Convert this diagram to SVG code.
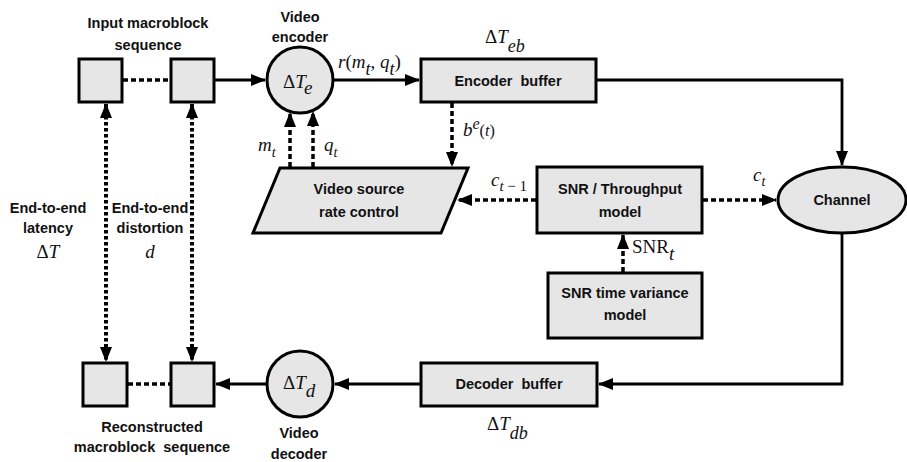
<svg xmlns="http://www.w3.org/2000/svg" width="907" height="462" viewBox="0 0 907 462">
<defs>
<style>
.box{fill:#e6e6e6;stroke:#000;stroke-width:3}
.lbl{font-family:"Liberation Sans",Arial,sans-serif;font-weight:bold;font-size:14.5px;fill:#111;text-anchor:middle}
.m{font-family:"Liberation Serif","Times New Roman",serif;font-style:italic;font-size:19px;fill:#111}
.up{font-style:normal}
.solid{fill:none;stroke:#000;stroke-width:2.8}
.dash{fill:none;stroke:#000;stroke-width:3.5;stroke-dasharray:5 3}
.dot{fill:none;stroke:#000;stroke-width:4;stroke-dasharray:3.5 2.5}
</style>
<marker id="ah" markerUnits="userSpaceOnUse" markerWidth="15" markerHeight="12" refX="14" refY="6" orient="auto-start-reverse">
<path d="M0,0 L15,6 L0,12 z" fill="#000"/>
</marker>
</defs>
<rect width="907" height="462" fill="#fff"/>

<g id="connectors">
<path class="dash" d="M123,80 H171"/>
<path class="solid" d="M214,80 H265" marker-end="url(#ah)"/>
<path class="solid" d="M333,80 H419" marker-end="url(#ah)"/>
<path class="solid" d="M596,80 H842 V165" marker-end="url(#ah)"/>
<path class="dash" d="M452,103 V166" marker-end="url(#ah)"/>
<path class="dash" d="M290,167 V113" marker-end="url(#ah)"/>
<path class="dash" d="M313,167 V112" marker-end="url(#ah)"/>
<path class="dash" d="M536,200 H458" marker-end="url(#ah)"/>
<path class="dash" d="M703,200 H776" marker-end="url(#ah)"/>
<path class="dash" d="M623,272 V235" marker-end="url(#ah)"/>
<path class="solid" d="M842,233 V384 H599" marker-end="url(#ah)"/>
<path class="solid" d="M421,384 H335" marker-end="url(#ah)"/>
<path class="solid" d="M267,384 H216" marker-end="url(#ah)"/>
<path class="dash" d="M128,384 H171"/>
<path class="dot" d="M106,104 V361" marker-start="url(#ah)" marker-end="url(#ah)"/>
<path class="dot" d="M192,104 V361" marker-start="url(#ah)" marker-end="url(#ah)"/>
</g>

<g id="input-seq">
<rect class="box" x="79" y="59" width="43" height="43"/>
<rect class="box" x="171" y="59" width="43" height="43"/>
<text class="lbl" x="148" y="28">Input macroblock</text>
<text class="lbl" x="148" y="50">sequence</text>
</g>

<g id="encoder">
<circle class="box" cx="300" cy="80" r="33"/>
<text class="lbl" x="300" y="22">Video</text>
<text class="lbl" x="300" y="42">encoder</text>
<text class="m" x="283" y="88" font-size="20"><tspan class="up">Δ</tspan>T<tspan dy="6">e</tspan></text>
</g>

<text class="m" x="338" y="68" font-size="20">r<tspan class="up">(</tspan>m<tspan dy="7" font-size="18">t</tspan><tspan dy="-7" class="up">, </tspan>q<tspan dy="7" font-size="18">t</tspan><tspan dy="-7" class="up">)</tspan></text>

<g id="encoder-buffer">
<rect class="box" x="421" y="59" width="175" height="43"/>
<text class="lbl" x="508" y="86" xml:space="preserve">Encoder  buffer</text>
<text class="m" x="485" y="43"><tspan class="up">Δ</tspan>T<tspan dy="9" font-size="18">eb</tspan></text>
</g>

<text class="m" x="463" y="136">b<tspan dy="-7" font-size="16">e</tspan><tspan dy="7" class="up" font-size="16">(</tspan><tspan font-size="16">t</tspan><tspan class="up" font-size="16">)</tspan></text>
<text class="m" x="258" y="151">m<tspan dy="6" font-size="14">t</tspan></text>
<text class="m" x="324" y="151">q<tspan dy="6" font-size="14">t</tspan></text>

<g id="rate-control">
<polygon class="box" points="280,168 468,168 441,233 253,233"/>
<text class="lbl" x="359" y="194">Video source</text>
<text class="lbl" x="359" y="217">rate control</text>
</g>

<text class="m" x="491" y="186">c<tspan dy="5" font-size="15">t</tspan><tspan font-size="15" class="up"> − 1</tspan></text>

<g id="snr-model">
<rect class="box" x="537" y="167" width="165" height="66"/>
<text class="lbl" x="620" y="194">SNR / Throughput</text>
<text class="lbl" x="620" y="217">model</text>
</g>

<text class="m" x="753" y="181">c<tspan dy="5" font-size="14">t</tspan></text>

<g id="channel">
<ellipse class="box" cx="842" cy="200" rx="64" ry="33"/>
<text class="lbl" x="842" y="205">Channel</text>
</g>

<text class="m" x="632" y="253"><tspan class="up">SNR</tspan><tspan dy="7">t</tspan></text>

<g id="snr-variance">
<rect class="box" x="548" y="273" width="154" height="65"/>
<text class="lbl" x="625" y="298">SNR time variance</text>
<text class="lbl" x="625" y="320">model</text>
</g>

<g id="decoder-buffer">
<rect class="box" x="421" y="363" width="176" height="43"/>
<text class="lbl" x="509" y="389" xml:space="preserve">Decoder  buffer</text>
<text class="m" x="487" y="430"><tspan class="up">Δ</tspan>T<tspan dy="9" font-size="18">db</tspan></text>
</g>

<g id="decoder">
<circle class="box" cx="300" cy="384" r="33"/>
<text class="m" x="283" y="389" font-size="20"><tspan class="up">Δ</tspan>T<tspan dy="8">d</tspan></text>
<text class="lbl" x="299" y="438">Video</text>
<text class="lbl" x="299" y="459">decoder</text>
</g>

<g id="output-seq">
<rect class="box" x="83" y="363" width="44" height="43"/>
<rect class="box" x="171" y="363" width="43" height="43"/>
<text class="lbl" x="152" y="432">Reconstructed</text>
<text class="lbl" x="152" y="452" xml:space="preserve">macroblock  sequence</text>
</g>

<g id="latency-label">
<text class="lbl" x="48" y="213">End-to-end</text>
<text class="lbl" x="48" y="233">latency</text>
<text class="m" x="48" y="258" text-anchor="middle"><tspan class="up">Δ</tspan>T</text>
</g>

<g id="distortion-label">
<text class="lbl" x="150" y="213">End-to-end</text>
<text class="lbl" x="150" y="233">distortion</text>
<text class="m" x="150" y="258" text-anchor="middle">d</text>
</g>
</svg>
